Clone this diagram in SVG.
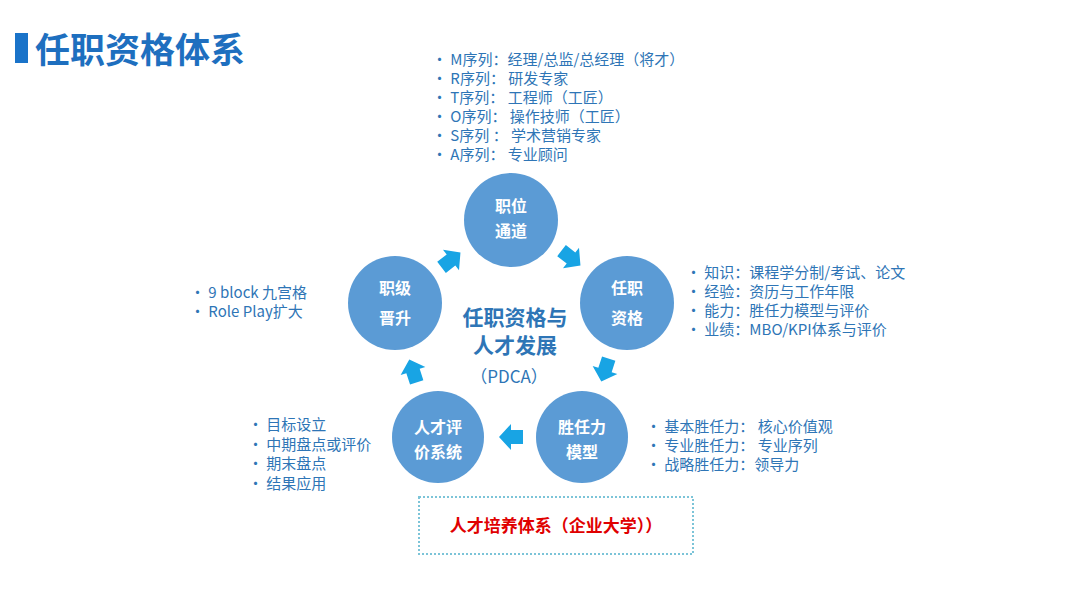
<svg xmlns="http://www.w3.org/2000/svg" width="1080" height="608" viewBox="0 0 1080 608">
<defs>
<style>
text{font-family:"Noto Sans CJK SC","Microsoft YaHei",sans-serif;}
.c{fill:#5b9bd5;}
.ct{fill:#ffffff;font-size:16px;font-weight:bold;text-anchor:middle;}
.l{fill:#2e75b6;font-size:15px;}
.a{fill:#18a4e4;}
</style>
<path id="arr" d="M-12,-7 L0,-7 L0,-13 L12,0 L0,13 L0,7 L-12,7 Z"/>
</defs>
<rect width="1080" height="608" fill="#ffffff"/>
<g id="title">
<rect x="15" y="33" width="13" height="30" fill="#1a73c9"/>
<text x="35" y="63" font-size="35" font-weight="bold" fill="#1e6fbf">任职资格体系</text>
</g>
<g id="connectors">
<use href="#arr" class="a" transform="translate(451,260) rotate(-38)"/>
<use href="#arr" class="a" transform="translate(571,258) rotate(38)"/>
<use href="#arr" class="a" transform="translate(605,370) rotate(108)"/>
<use href="#arr" class="a" transform="translate(511,437) rotate(180)"/>
<use href="#arr" class="a" transform="translate(413,371) rotate(-108)"/>
</g>
<g id="node-zhiwei">
<circle class="c" cx="511" cy="220" r="47"/>
<text class="ct" x="511" y="212">职位</text>
<text class="ct" x="511" y="237">通道</text>
</g>
<g id="node-renzhi">
<circle class="c" cx="627" cy="303" r="47"/>
<text class="ct" x="627" y="294">任职</text>
<text class="ct" x="627" y="324">资格</text>
</g>
<g id="node-zhiji">
<circle class="c" cx="395" cy="303" r="47"/>
<text class="ct" x="395" y="294">职级</text>
<text class="ct" x="395" y="324">晋升</text>
</g>
<g id="node-pingjia">
<circle class="c" cx="438" cy="437" r="46"/>
<text class="ct" x="438" y="433">人才评</text>
<text class="ct" x="438" y="458">价系统</text>
</g>
<g id="node-shengren">
<circle class="c" cx="582" cy="437" r="46"/>
<text class="ct" x="582" y="433">胜任力</text>
<text class="ct" x="582" y="458">模型</text>
</g>
<g id="center">
<text x="515" y="325" font-size="21" font-weight="bold" fill="#2e75b6" text-anchor="middle">任职资格与</text>
<text x="515" y="353" font-size="21" font-weight="bold" fill="#2e75b6" text-anchor="middle">人才发展</text>
<text x="509" y="383" font-size="17" fill="#2e75b6" text-anchor="middle">（PDCA）</text>
</g>
<g id="list-top">
<text class="l" x="432" y="65">• M序列：经理/总监/总经理（将才）</text>
<text class="l" x="432" y="84">• R序列： 研发专家</text>
<text class="l" x="432" y="103">• T序列： 工程师（工匠）</text>
<text class="l" x="432" y="122">• O序列： 操作技师（工匠）</text>
<text class="l" x="432" y="141">• S序列 ： 学术营销专家</text>
<text class="l" x="432" y="160">• A序列： 专业顾问</text>
</g>
<g id="list-right">
<text class="l" x="686" y="278">• 知识：课程学分制/考试、论文</text>
<text class="l" x="686" y="297">• 经验：资历与工作年限</text>
<text class="l" x="686" y="316">• 能力：胜任力模型与评价</text>
<text class="l" x="686" y="335">• 业绩：MBO/KPI体系与评价</text>
</g>
<g id="list-left">
<text class="l" x="190" y="298">• 9 block 九宫格</text>
<text class="l" x="190" y="317">• Role Play扩大</text>
</g>
<g id="list-bottom-left">
<text class="l" x="248" y="430">• 目标设立</text>
<text class="l" x="248" y="450">• 中期盘点或评价</text>
<text class="l" x="248" y="469">• 期末盘点</text>
<text class="l" x="248" y="489">• 结果应用</text>
</g>
<g id="list-bottom-right">
<text class="l" x="646" y="432">• 基本胜任力： 核心价值观</text>
<text class="l" x="646" y="451">• 专业胜任力： 专业序列</text>
<text class="l" x="646" y="470">• 战略胜任力：领导力</text>
</g>
<g id="box-training">
<rect x="419" y="497" width="274" height="57" fill="none" stroke="#7cc4d8" stroke-width="2" stroke-dasharray="2,2"/>
<text x="556" y="532" font-size="17" font-weight="bold" fill="#e00000" text-anchor="middle">人才培养体系（企业大学））</text>
</g>
</svg>
